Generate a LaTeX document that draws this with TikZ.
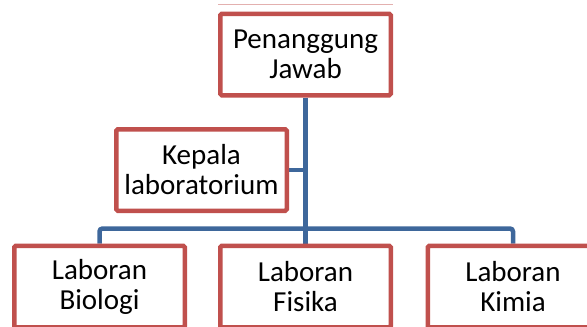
\documentclass[tikz,border=0pt]{standalone}
\usepackage{fontspec}
\setmainfont{Carlito}
\usetikzlibrary{backgrounds}
\definecolor{labred}{HTML}{C0504D}
\definecolor{labblue}{HTML}{3E679B}
\begin{document}
\begin{tikzpicture}[x=1pt, y=-1pt]
            \tikzset{box/.style={draw=labred, line width=4.5pt, fill=white, rounded corners=1.5pt,
                minimum width=170.5pt, minimum height=81.5pt, align=center, inner sep=0pt,
                font=\fontsize{29}{30}\selectfont}}
            \tikzset{link/.style={draw=labblue, line width=4.5pt}}
            \useasboundingbox (0, 0) rectangle (587, 327);
            \clip (0, 0) rectangle (587, 327);
            \node[box] (pj) at (305.5, 54.5) {Penanggung\\Jawab};
            \node[box] (kl) at (201.5, 170) {Kepala\\laboratorium};
            \node[box] (lb) at (99.5, 286.5) {Laboran\\Biologi};
            \node[box] (lf) at (305.5, 286.5) {Laboran\\Fisika};
            \node[box] (lk) at (513, 286.5) {Laboran\\Kimia};
            \coordinate (bar) at (305.5, 228.5);
            \draw[labred!45, line width=1pt] ([yshift=7pt]pj.north west) -- ([yshift=7pt]pj.north east);
            \begin{scope}[on background layer]
                \draw[link] (pj.south) -- (bar);
                \draw[link, rounded corners=3pt] (lb.north) |- (bar) -| (lk.north);
                \draw[link] (bar) -- (lf.north);
                \draw[link] (kl.east) -- (kl.east -| bar);
            \end{scope}
        \end{tikzpicture}
\end{document}
